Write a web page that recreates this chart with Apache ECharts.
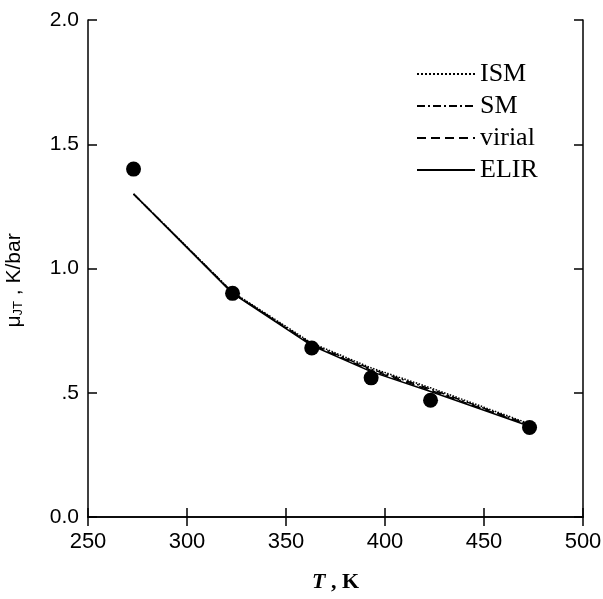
<!DOCTYPE html>
<html>
<head>
<meta charset="utf-8">
<script src="https://cdn.jsdelivr.net/npm/echarts@6/dist/echarts.min.js"></script>
<style>html,body{margin:0;padding:0;background:#fff;}#c{width:603px;height:599px;}</style>
</head>
<body>
<div id="c"></div>
<script>
var temps = [273, 323, 363, 393, 423, 473];
var expData = [1.40, 0.90, 0.68, 0.56, 0.47, 0.36];
var ism = [1.30, 0.905, 0.700, 0.600, 0.520, 0.375];
var sm = [1.30, 0.903, 0.696, 0.595, 0.515, 0.371];
var virial = [1.30, 0.902, 0.693, 0.590, 0.510, 0.368];
var elir = [1.30, 0.900, 0.690, 0.585, 0.505, 0.365];
var xTicks = [250, 300, 350, 400, 450, 500];
var yTickLabels = {'0': '0.0', '0.5': '.5', '1': '1.0', '1.5': '1.5', '2': '2.0'};

function pairs(ys) { return temps.map(function (t, i) { return [t, ys[i]]; }); }

var chart = echarts.init(document.getElementById('c'));
var axisCommon = {
  axisLine: { show: true, lineStyle: { color: '#000', width: 1.5 } },
  axisTick: { show: true, inside: true, length: 9, lineStyle: { color: '#000', width: 1.5 } },
  splitLine: { show: false }
};
function lineSeries(name, data, type) {
  return {
    name: name, type: 'line', data: pairs(data), symbol: 'none', silent: true,
    lineStyle: { color: '#000', width: 1.5, type: type },
    itemStyle: { color: '#000' }
  };
}
chart.setOption({
  animation: false,
  backgroundColor: '#fff',
  grid: { left: 88, right: 20, top: 20, bottom: 82, containLabel: false, outerBoundsMode: 'none' },
  legend: {
    data: ['ISM', 'SM', 'virial', 'ELIR'],
    orient: 'vertical', left: 411, top: 56,
    itemWidth: 58, itemHeight: 14, itemGap: 6,
    itemStyle: { opacity: 0 },
    textStyle: { fontFamily: 'Liberation Serif', fontSize: 26, color: '#000', padding: [0, 0, 0, 0] },
    selectedMode: false
  },
  xAxis: [
    Object.assign({
      type: 'value', min: 250, max: 500, interval: 50, position: 'bottom',
      name: '{t|T}{k| , K}', nameLocation: 'middle', nameGap: 54,
      nameTextStyle: { rich: {
        t: { fontFamily: 'Liberation Serif', fontStyle: 'italic', fontWeight: 'bold', fontSize: 22, color: '#000' },
        k: { fontFamily: 'Liberation Serif', fontWeight: 'bold', fontSize: 22, color: '#000' }
      } },
      axisLabel: { fontFamily: 'Liberation Sans', fontSize: 22, color: '#000', margin: 14,
        formatter: function (v) { return xTicks.indexOf(v) >= 0 ? String(v) : ''; } }
    }, axisCommon),
    Object.assign({
      type: 'value', min: 250, max: 500, interval: 50, position: 'top',
      axisLabel: { show: false }
    }, axisCommon)
  ],
  yAxis: [
    Object.assign({
      type: 'value', min: 0, max: 2, interval: 0.5, position: 'left',
      name: '{m|μ}{s|JT}{k| , K/bar}', nameLocation: 'middle', nameGap: 63,
      nameTextStyle: { padding: [0, 24, 0, 0], rich: {
        m: { fontFamily: 'Liberation Sans', fontSize: 21, color: '#000' },
        s: { fontFamily: 'Liberation Sans', fontSize: 13, color: '#000', padding: [8, 0, 0, 0] },
        k: { fontFamily: 'Liberation Sans', fontSize: 21, color: '#000' }
      } },
      axisLabel: { fontFamily: 'Liberation Sans', fontSize: 21, color: '#000', margin: 9,
        formatter: function (v) { return yTickLabels[String(v)] || ''; } }
    }, axisCommon),
    Object.assign({
      type: 'value', min: 0, max: 2, interval: 0.5, position: 'right',
      axisLabel: { show: false }
    }, axisCommon)
  ],
  series: [
    lineSeries('ISM', ism, 'dotted'),
    lineSeries('SM', sm, [8, 3, 2, 3]),
    lineSeries('virial', virial, [9, 5]),
    lineSeries('ELIR', elir, 'solid'),
    {
      name: 'data', type: 'scatter', data: pairs(expData), symbol: 'circle', symbolSize: 15,
      itemStyle: { color: '#000', opacity: 1 }, silent: true
    }
  ]
});
</script>
</body>
</html>
